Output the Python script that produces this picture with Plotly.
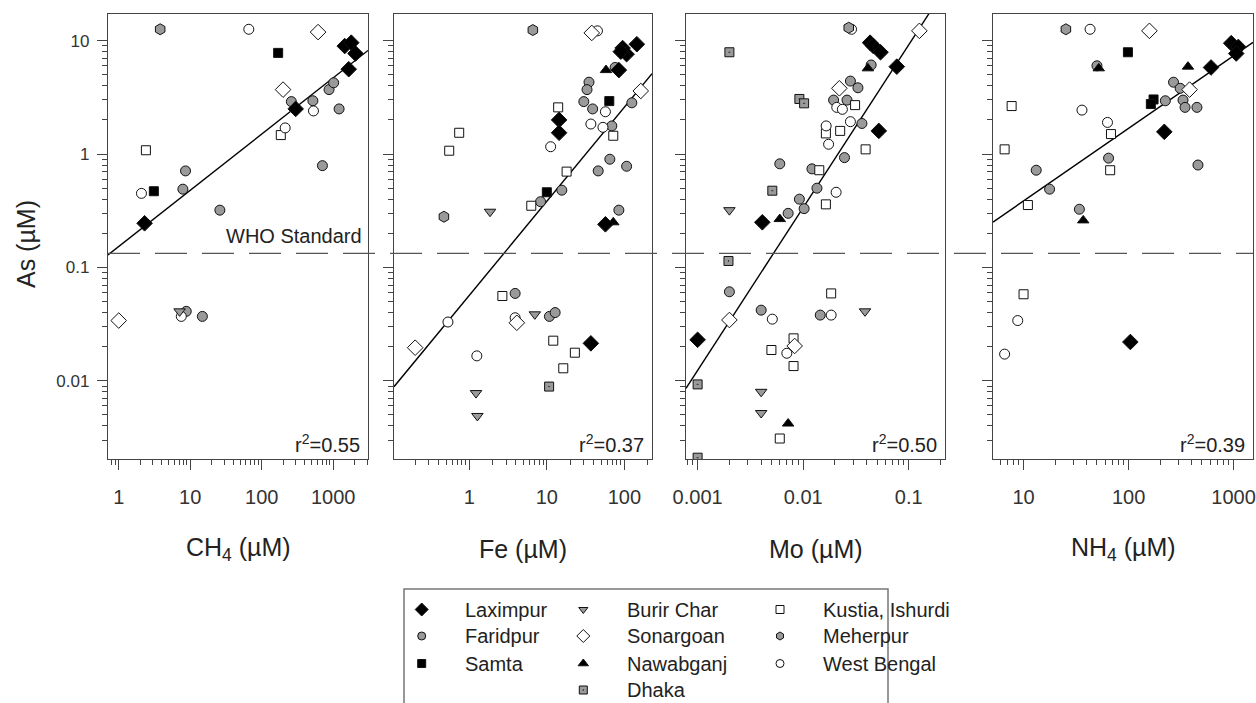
import math
import plotly.graph_objects as go

# ---------------- data ----------------
SITE_NAMES = {"L": "Laximpur", "F": "Faridpur", "S": "Samta", "B": "Burir Char",
              "So": "Sonargoan", "N": "Nawabganj", "D": "Dhaka",
              "K": "Kustia, Ishurdi", "M": "Meherpur", "W": "West Bengal"}

# Panel 1: CH4 (uM) vs As (uM)
CH4_SITE = ["L"] * 6 + ["F"] * 11 + ["S"] * 2 + ["B"] * 1 + ["So"] * 3 + ["K"] * 2 + ["M"] * 1 + ["W"] * 5
CH4_X = [2.3, 299, 1450, 1790, 2050, 1650,
         260, 520, 707, 8.6, 7.9, 26, 875, 1015, 1210, 8.8, 14.8,
         170, 3.1,
         7.1,
         615, 199, 1.0,
         2.4, 185,
         3.8,
         66, 530, 213, 2.08, 7.5]
CH4_AS = [0.245, 2.5, 8.96, 9.6, 7.7, 5.6,
          2.9, 2.95, 0.79, 0.71, 0.49, 0.32, 3.7, 4.25, 2.5, 0.041, 0.037,
          7.8, 0.47,
          0.041,
          11.9, 3.7, 0.034,
          1.08, 1.47,
          12.6,
          12.6, 2.4, 1.7, 0.45, 0.037]

# Panel 2: Fe (uM) vs As (uM)
FE_SITE = ["L"] * 9 + ["F"] * 16 + ["S"] * 2 + ["B"] * 4 + ["So"] * 4 + ["N"] * 2 + ["D"] * 1 + ["K"] * 10 + ["M"] * 2 + ["W"] * 8
FE_X = [145, 95, 107, 90, 85, 14.4, 14.4, 57, 37,
        76, 35, 33, 30, 39, 125, 69, 65, 107, 46, 15.6, 8.3, 85, 3.9, 10.8, 12.8,
        64, 10,
        1.85, 1.22, 1.27, 7.0,
        38, 163, 0.2, 4.1,
        58, 72,
        10.7,
        14, 72, 0.74, 0.55, 18, 6.3, 2.67, 12.1, 23, 16.3,
        6.6, 0.47,
        45, 57, 37, 53, 11.2, 0.53, 1.25, 3.9]
FE_AS = [9.3, 8.6, 7.6, 8.0, 5.5, 2.0, 1.54, 0.24, 0.0214,
         5.8, 4.3, 3.7, 2.9, 2.5, 2.83, 1.77, 0.9, 0.78, 0.71, 0.48, 0.38, 0.32, 0.059, 0.037, 0.040,
         2.93, 0.46,
         0.31, 0.0078, 0.0049, 0.0386,
         11.7, 3.6, 0.0196, 0.0325,
         5.5, 0.25,
         0.0089,
         2.58, 1.45, 1.54, 1.07, 0.70, 0.35, 0.056, 0.0226, 0.0177, 0.0129,
         12.4, 0.28,
         12.2, 2.36, 1.84, 1.72, 1.16, 0.033, 0.0166, 0.036]

# Panel 3: Mo (uM) vs As (uM)
MO_SITE = ["L"] * 7 + ["F"] * 16 + ["B"] * 4 + ["So"] * 4 + ["N"] * 3 + ["D"] * 7 + ["K"] * 11 + ["M"] * 1 + ["W"] * 10
MO_X = [0.043, 0.046, 0.054, 0.077, 0.052, 0.0041, 0.001,
        0.044, 0.028, 0.033, 0.0194, 0.026, 0.036, 0.0246, 0.006, 0.0121, 0.0135, 0.0092, 0.0102, 0.0072, 0.002, 0.004, 0.0145,
        0.002, 0.0385, 0.004, 0.004,
        0.126, 0.022, 0.002, 0.0083,
        0.041, 0.006, 0.0072,
        0.002, 0.0092, 0.0102, 0.0051, 0.00196, 0.001, 0.001,
        0.031, 0.0164, 0.0224, 0.039, 0.0142, 0.0164, 0.0184, 0.0081, 0.005, 0.0081, 0.006,
        0.027,
        0.0287, 0.0208, 0.0235, 0.0165, 0.028, 0.0174, 0.0205, 0.0051, 0.0184, 0.007]
MO_AS = [9.6, 9.0, 7.9, 5.9, 1.6, 0.25, 0.023,
         6.1, 4.4, 3.84, 2.99, 2.99, 1.86, 0.93, 0.82, 0.74, 0.50, 0.40, 0.33, 0.30, 0.061, 0.042, 0.038,
         0.32, 0.041, 0.008, 0.0052,
         12.2, 3.8, 0.0344, 0.0203,
         5.7, 0.267, 0.0042,
         7.9, 3.06, 2.8, 0.475, 0.114, 0.0093, 0.0021,
         2.7, 1.52, 1.6, 1.1, 0.72, 0.36, 0.059, 0.0237, 0.0187, 0.0135, 0.0031,
         13.0,
         12.6, 2.58, 2.48, 1.77, 1.93, 1.22, 0.46, 0.035, 0.038, 0.0175]

# Panel 4: NH4 (uM) vs As (uM)
NH4_SITE = ["L"] * 6 + ["F"] * 12 + ["S"] * 3 + ["N"] * 3 + ["So"] * 2 + ["K"] * 6 + ["M"] * 1 + ["W"] * 5
NH4_X = [950, 1110, 1060, 610, 219, 104,
         50, 268, 310, 224, 330, 345, 448, 64.5, 458, 13.2, 17.7, 34,
         98.6, 173, 163,
         52, 368, 37,
         158, 381,
         7.7, 68, 6.6, 66.8, 11, 10,
         25.3,
         43, 36, 63, 8.8, 6.6]
NH4_AS = [9.5, 8.8, 7.7, 5.8, 1.57, 0.022,
          6.0, 4.3, 3.8, 2.95, 2.99, 2.58, 2.58, 0.92, 0.80, 0.72, 0.49, 0.326,
          7.9, 3.03, 2.76,
          5.7, 5.9, 0.26,
          12.2, 3.7,
          2.65, 1.5, 1.1, 0.72, 0.355, 0.058,
          12.6,
          12.6, 2.44, 1.9, 0.034, 0.0172]

# regression lines (log10 As = intercept + slope * log10 X) and r^2 labels
FIT_SLOPE = [0.496, 0.829, 1.436, 0.64]
FIT_INTERCEPT = [-0.816, -1.246, 2.40, -1.054]
R2_TEXT = ["0.55", "0.37", "0.50", "0.39"]

X_TITLES = ["CH<sub>4</sub> (µM)", "Fe (µM)", "Mo (µM)", "NH<sub>4</sub> (µM)"]
X_TICKVALS = [[1, 10, 100, 1000], [1, 10, 100], [0.001, 0.01, 0.1], [10, 100, 1000]]
X_TICKTEXT = [["1", "10", "100", "1000"], ["1", "10", "100"], ["0.001", "0.01", "0.1"], ["10", "100", "1000"]]
Y_TICKVALS = [0.01, 0.1, 1, 10]
Y_TICKTEXT = ["0.01", "0.1", "1", "10"]
WHO_AS = 0.133

LEGEND_ORDER = [["L", "F", "S"], ["B", "So", "N", "D"], ["K", "M", "W"]]

# ---------------- layout / style ----------------
W, H = 1256, 703
FONT = "Liberation Sans, Arial, sans-serif"
INK = "#222222"
AXC = "#444444"
GRAY = "#9a9a9a"

STYLE = {
    "L": dict(symbol="diamond", color="black", size=12),
    "F": dict(symbol="circle", color=GRAY, size=10),
    "S": dict(symbol="square", color="black", size=9),
    "B": dict(symbol="triangle-down", color=GRAY, size=10),
    "So": dict(symbol="diamond", color="white", size=12),
    "N": dict(symbol="triangle-up", color="black", size=10),
    "D": dict(symbol="square-dot", color=GRAY, size=9),
    "K": dict(symbol="square", color="white", size=9),
    "M": dict(symbol="hexagon", color=GRAY, size=11),
    "W": dict(symbol="circle", color="white", size=10),
}
LEGEND_SIZE = {"L": 10, "F": 8, "S": 8, "B": 8, "So": 10, "N": 9, "D": 8, "K": 8, "M": 8, "W": 8}


def fx(px):
    return px / W


def fy(py):
    return 1 - py / H


X_DOM_PX = [(108, 368), (394, 652), (686, 945), (993, 1253)]
Y_DOM_PX = (14, 459.3)
X_RANGE = [(-0.15, 3.487), (-0.972, 2.357), (-3.11, -0.657), (0.709, 3.185)]
Y_RANGE = (-2.692, 1.235)

panels = [(CH4_SITE, CH4_X, CH4_AS), (FE_SITE, FE_X, FE_AS),
          (MO_SITE, MO_X, MO_AS), (NH4_SITE, NH4_X, NH4_AS)]

fig = go.Figure()


def minor_vals(lo, hi):
    out = []
    for e in range(math.floor(lo) - 1, math.ceil(hi) + 1):
        for k in range(2, 10):
            v = k * 10 ** e
            if lo <= math.log10(v) <= hi:
                out.append(v)
    return out


annotations = []
shapes = []
for i, (sites, xs, ys) in enumerate(panels):
    n = i + 1
    xa, ya = f"x{n}" if n > 1 else "x", f"y{n}" if n > 1 else "y"
    # regression line
    lx = [10 ** X_RANGE[i][0], 10 ** X_RANGE[i][1]]
    ly = [10 ** (FIT_INTERCEPT[i] + FIT_SLOPE[i] * math.log10(v)) for v in lx]
    fig.add_trace(go.Scatter(x=lx, y=ly, mode="lines", line=dict(color="black", width=1.4),
                             xaxis=xa, yaxis=ya, showlegend=False, hoverinfo="skip"))
    for code in ["F", "K", "W", "M", "D", "B", "So", "S", "N", "L"]:
        px_ = [x for s, x in zip(sites, xs) if s == code]
        py_ = [y for s, y in zip(sites, ys) if s == code]
        if not px_:
            continue
        st = STYLE[code]
        fig.add_trace(go.Scatter(
            x=px_, y=py_, mode="markers", name=SITE_NAMES[code], xaxis=xa, yaxis=ya,
            showlegend=False,
            marker=dict(symbol=st["symbol"], color=st["color"], size=st["size"],
                        line=dict(color="#111111", width=1))))

    x0p, x1p = X_DOM_PX[i]
    axis_common = dict(type="log", showgrid=False, zeroline=False, showline=True, mirror=True,
                       linecolor=AXC, linewidth=1.3, ticks="outside", tickcolor=AXC,
                       tickwidth=1.1, automargin=False)
    fig.update_layout(**{
        ("xaxis" if n == 1 else f"xaxis{n}"): dict(
            axis_common, domain=[fx(x0p), fx(x1p)], range=list(X_RANGE[i]),
            anchor=ya, tickmode="array", tickvals=X_TICKVALS[i], ticktext=X_TICKTEXT[i],
            ticklen=10, ticklabelstandoff=10,
            tickfont=dict(family=FONT, size=20, color="#333333"),
            minor=dict(tickmode="array", tickvals=minor_vals(*X_RANGE[i]), ticks="outside",
                       ticklen=5, tickcolor=AXC, tickwidth=1)),
        ("yaxis" if n == 1 else f"yaxis{n}"): dict(
            axis_common, domain=[fy(Y_DOM_PX[1]), fy(Y_DOM_PX[0])], range=list(Y_RANGE),
            anchor=xa, tickmode="array", tickvals=Y_TICKVALS, ticktext=Y_TICKTEXT,
            showticklabels=(n == 1), ticklen=10, ticklabelstandoff=4,
            tickfont=dict(family=FONT, size=17, color="#333333"),
            minor=dict(tickmode="array", tickvals=minor_vals(*Y_RANGE), ticks="outside",
                       ticklen=5, tickcolor=AXC, tickwidth=1)),
    })
    # x title
    annotations.append(dict(text=X_TITLES[i], x=fx((x0p + x1p) / 2), y=fy(549), xref="paper",
                            yref="paper", showarrow=False, xanchor="center", yanchor="middle",
                            font=dict(family=FONT, size=25, color=INK)))
    # r^2
    annotations.append(dict(text=f"r<sup>2</sup>={R2_TEXT[i]}", x=fx(x1p - 6), y=fy(443),
                            xref="paper", yref="paper", showarrow=False, xanchor="right",
                            yanchor="middle", font=dict(family=FONT, size=20, color=INK)))

# WHO standard dashed line across all panels
ydom0, ydom1 = fy(Y_DOM_PX[1]), fy(Y_DOM_PX[0])
who_p = ydom0 + (math.log10(WHO_AS) - Y_RANGE[0]) / (Y_RANGE[1] - Y_RANGE[0]) * (ydom1 - ydom0)
shapes.append(dict(type="line", xref="paper", yref="paper", x0=fx(108), x1=fx(1253),
                   y0=who_p, y1=who_p, line=dict(color="#555555", width=1.3, dash="32px,15px")))
annotations.append(dict(text="WHO Standard", x=fx(364), y=who_p + 17 / H, xref="paper",
                        yref="paper", showarrow=False, xanchor="right", yanchor="middle",
                        font=dict(family=FONT, size=20, color=INK)))
# y title
annotations.append(dict(text="As (µM)", x=fx(26), y=fy(244), xref="paper", yref="paper",
                        showarrow=False, textangle=-90, xanchor="center", yanchor="middle",
                        font=dict(family=FONT, size=25, color=INK)))

# ---------------- legend (drawn manually, pixel layout axis) ----------------
shapes.append(dict(type="rect", xref="paper", yref="paper", x0=fx(404), x1=fx(888),
                   y0=fy(720), y1=fy(589), line=dict(color="#777777", width=1.5),
                   fillcolor="rgba(0,0,0,0)"))
COL_MARK = [421.7, 583.3, 780]
COL_TEXT = [463, 625, 821.5]
ROW_Y = [609.5, 636, 663.5, 690]
for c, col in enumerate(LEGEND_ORDER):
    for r, code in enumerate(col):
        st = STYLE[code]
        fig.add_trace(go.Scatter(
            x=[COL_MARK[c]], y=[ROW_Y[r]], mode="markers", xaxis="x5", yaxis="y5",
            showlegend=False, hoverinfo="skip",
            marker=dict(symbol=st["symbol"], color=st["color"], size=LEGEND_SIZE[code],
                        line=dict(color="#111111", width=1))))
        annotations.append(dict(text=SITE_NAMES[code], x=fx(COL_TEXT[c]), y=fy(ROW_Y[r]),
                                xref="paper", yref="paper", showarrow=False, xanchor="left",
                                yanchor="middle", font=dict(family=FONT, size=20, color=INK)))

fig.update_layout(
    xaxis5=dict(domain=[0, 1], range=[0, W], visible=False, anchor="y5", fixedrange=True,
                automargin=False),
    yaxis5=dict(domain=[0, 1], range=[H, 0], visible=False, anchor="x5", fixedrange=True,
                automargin=False),
    width=W, height=H, margin=dict(l=0, r=0, t=0, b=0, autoexpand=False),
    paper_bgcolor="white", plot_bgcolor="rgba(0,0,0,0)",
    showlegend=False, annotations=annotations, shapes=shapes,
    font=dict(family=FONT, color=INK),
)

fig.write_html(
    "out.html",
    config={"displayModeBar": False},
    post_script=("document.body.style.margin='0';document.body.style.padding='0';"
                 "document.body.style.overflow='hidden';"
                 "document.documentElement.style.overflow='hidden';"),
)
